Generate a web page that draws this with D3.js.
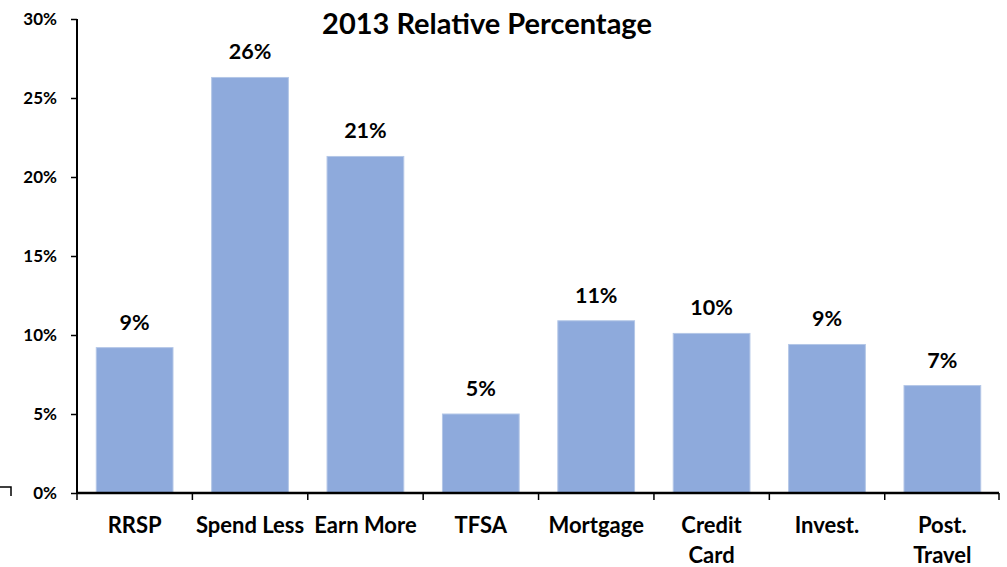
<!DOCTYPE html>
<html>
  <head>
    <meta charset="utf-8">
    <title>2013 Relative Percentage</title>
    <script src="https://cdn.jsdelivr.net/npm/d3@7"></script>
    <style>
      body { margin: 0; background: #fff; overflow: hidden; }
      svg { display: block; }
      text { font-family: Lato, 'Open Sans', sans-serif; font-weight: bold; fill: #000; }
      .title { font-size: 29px; text-anchor: middle; }
      .xlab { font-size: 22px; text-anchor: middle; }
      .val { font-size: 21.5px; text-anchor: middle; }
      .bar { fill: #8eaadc; stroke: #b4c7e7; stroke-width: 1px; }
    </style>
  </head>
  <body>
    <script>

      // data
      var categories = ['RRSP', 'Spend Less', 'Earn More', 'TFSA', 'Mortgage', 'Credit Card', 'Invest.', 'Post. Travel'];
      var labelLines = [['RRSP'], ['Spend Less'], ['Earn More'], ['TFSA'], ['Mortgage'], ['Credit', 'Card'], ['Invest.'], ['Post.', 'Travel']];
      var values = [9.2, 26.3, 21.3, 5.0, 10.9, 10.1, 9.4, 6.8];
      var yTicks = [0, 5, 10, 15, 20, 25, 30];

      var outerWidth = 1007, outerHeight = 567;
      var margin = { left: 77, top: 19, right: 7, bottom: 74 };
      var innerWidth = outerWidth - margin.left - margin.right;
      var innerHeight = outerHeight - margin.top - margin.bottom;

      var svg = d3.select('body').append('svg')
        .attr('width', outerWidth)
        .attr('height', outerHeight);

      var g = svg.append('g')
        .attr('transform', 'translate(' + margin.left + ',' + margin.top + ')');

      var xScale = d3.scaleBand()
        .domain(categories)
        .range([0, innerWidth])
        .paddingInner(0.335)
        .paddingOuter(0.167);

      var yScale = d3.scaleLinear()
        .domain([0, 30])
        .range([innerHeight, 0]);

      // bars
      g.selectAll('.bar')
        .data(values)
        .enter()
        .append('rect')
        .attr('class', 'bar')
        .attr('x', function(d, i) { return xScale(categories[i]); })
        .attr('y', function(d) { return yScale(d); })
        .attr('width', xScale.bandwidth())
        .attr('height', function(d) { return innerHeight - yScale(d); });

      // value labels
      g.selectAll('.val')
        .data(values)
        .enter()
        .append('text')
        .attr('class', 'val')
        .attr('x', function(d, i) { return xScale(categories[i]) + xScale.bandwidth() / 2; })
        .attr('y', function(d) { return yScale(d) - 18; })
        .text(function(d) { return Math.round(d) + '%'; });

      // y axis
      var yAxis = d3.axisLeft(yScale)
        .tickValues(yTicks)
        .tickSize(6)
        .tickPadding(14)
        .tickFormat(function(d) { return d + '%'; });

      var ya = g.append('g').call(yAxis);
      ya.select('.domain').attr('stroke', '#000').attr('stroke-width', 2).attr('d', 'M0,0V' + innerHeight);
      ya.selectAll('.tick line').attr('stroke', '#000').attr('stroke-width', 1.5);
      ya.selectAll('.tick text').attr('fill', '#000')
        .style('font-family', 'Lato, sans-serif').style('font-size', '17px').style('font-weight', 'bold');

      // x axis line and boundary ticks
      var step = xScale.step();
      g.append('line')
        .attr('x1', 0).attr('x2', innerWidth - 1)
        .attr('y1', innerHeight).attr('y2', innerHeight)
        .attr('stroke', '#000').attr('stroke-width', 2.5);

      g.selectAll('.xtick')
        .data(d3.range(categories.length + 1))
        .enter()
        .append('line')
        .attr('x1', function(d) { return Math.min(d * step, innerWidth - 1); })
        .attr('x2', function(d) { return Math.min(d * step, innerWidth - 1); })
        .attr('y1', innerHeight)
        .attr('y2', innerHeight + 7)
        .attr('stroke', '#000').attr('stroke-width', 1.5);

      // category labels
      var xl = g.selectAll('.xlab')
        .data(labelLines)
        .enter()
        .append('text')
        .attr('class', 'xlab')
        .attr('x', function(d, i) { return xScale(categories[i]) + xScale.bandwidth() / 2; })
        .attr('y', innerHeight + 40);

      xl.selectAll('tspan')
        .data(function(d) { return d; })
        .enter()
        .append('tspan')
        .attr('x', function() { return d3.select(this.parentNode).attr('x'); })
        .attr('dy', function(d, i) { return i === 0 ? 0 : 30; })
        .text(function(d) { return d; });

      // small stray bracket at bottom-left
      svg.append('path')
        .attr('d', 'M0,487H11V496')
        .attr('fill', 'none')
        .attr('stroke', '#000')
        .attr('stroke-width', 1.5);

      // title
      svg.append('text')
        .attr('class', 'title')
        .attr('x', 487)
        .attr('y', 34)
        .text('2013 Relative Percentage');

    </script>
  </body>
</html>
